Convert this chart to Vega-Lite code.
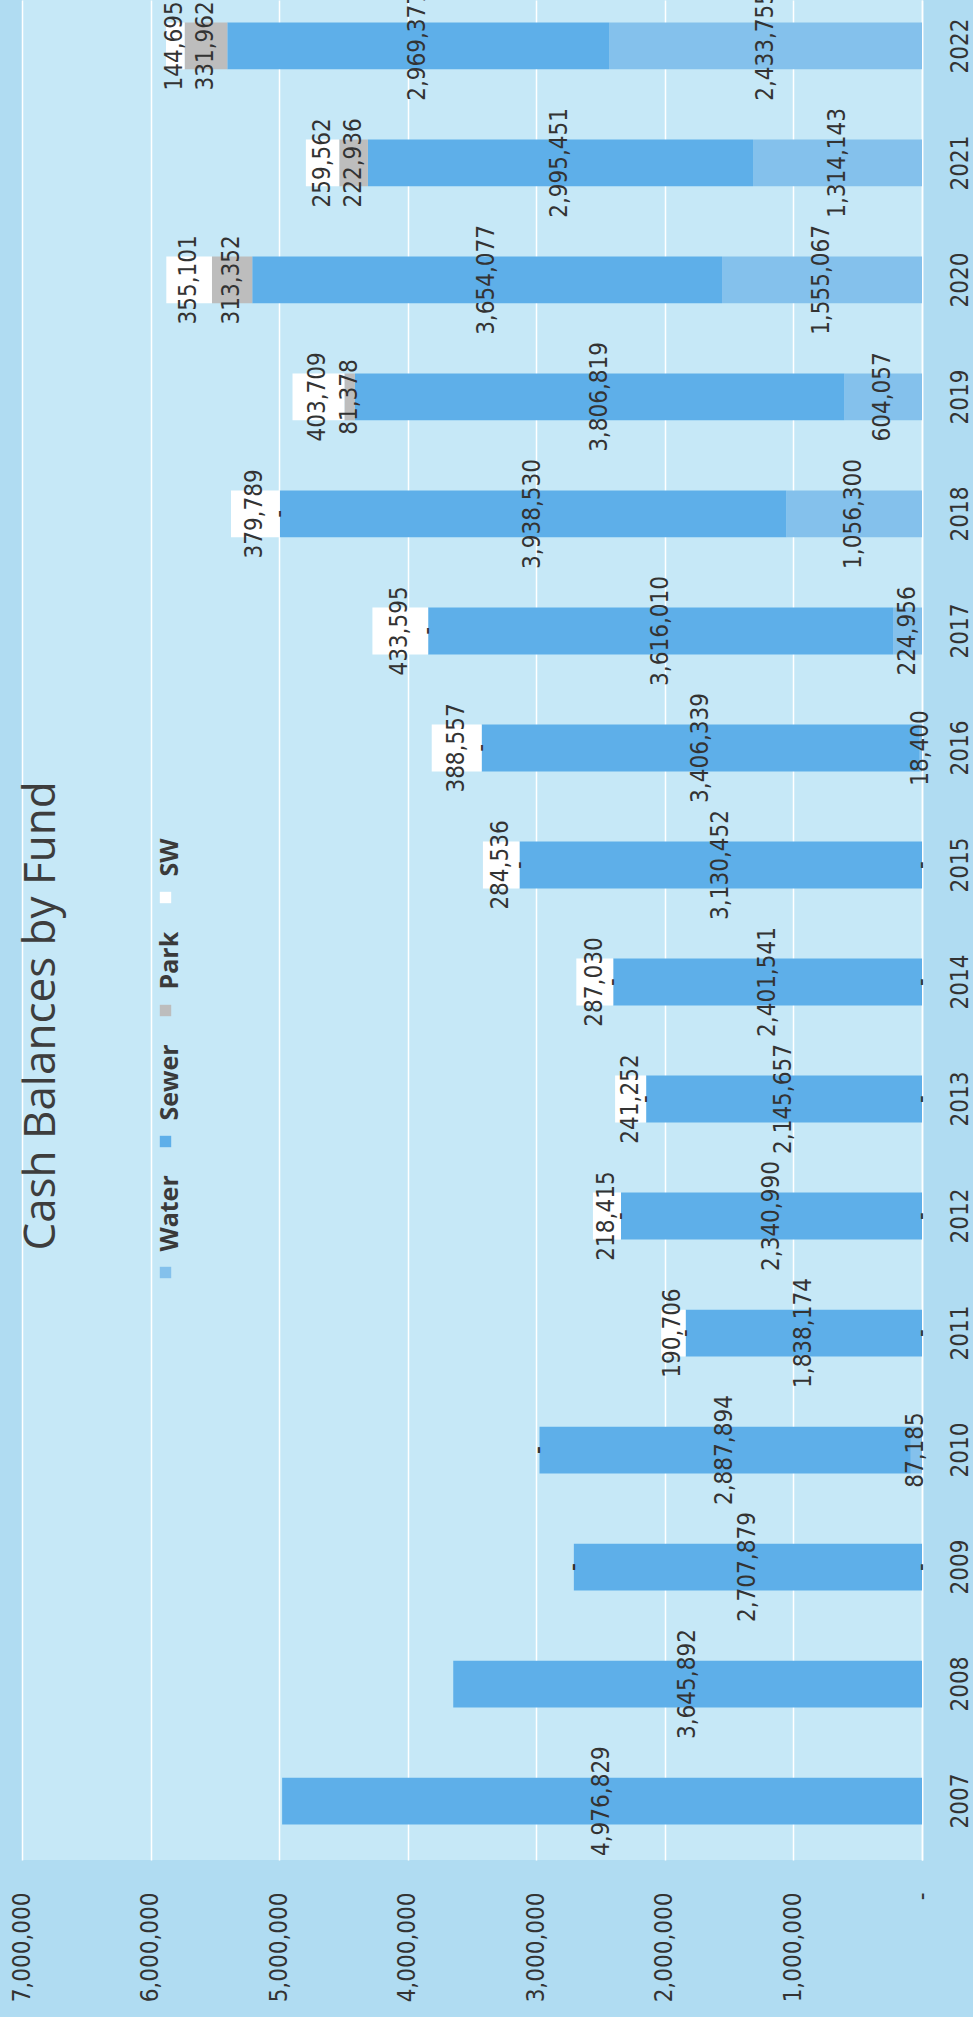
{
  "$schema": "https://vega.github.io/schema/vega-lite/v6.json",
  "autosize": {"type": "none"},
  "width": 900,
  "height": 1860,
  "padding": {"left": 22, "top": 0, "right": 51, "bottom": 157},
  "background": "#B0DCF2",
  "config": {
    "view": {"stroke": null, "fill": "#C6E8F7"}
  },
  "title": {
    "text": "Cash Balances by Fund",
    "orient": "left",
    "anchor": "middle",
    "font": "Open Sans",
    "fontSize": 44,
    "fontWeight": "normal",
    "color": "#3d3d3d",
    "offset": -54,
    "dx": -86
  },
  "data": {
    "values": [
      {"year": "2007", "fund": "Sewer", "value": 4976829, "ord": 2},
      {"year": "2008", "fund": "Sewer", "value": 3645892, "ord": 2},
      {"year": "2009", "fund": "Water", "value": 0, "ord": 1},
      {"year": "2009", "fund": "Sewer", "value": 2707879, "ord": 2},
      {"year": "2009", "fund": "Park", "value": 0, "ord": 3},
      {"year": "2009", "fund": "SW", "value": 0, "ord": 4},
      {"year": "2010", "fund": "Water", "value": 87185, "ord": 1},
      {"year": "2010", "fund": "Sewer", "value": 2887894, "ord": 2},
      {"year": "2010", "fund": "Park", "value": 0, "ord": 3},
      {"year": "2010", "fund": "SW", "value": 0, "ord": 4},
      {"year": "2011", "fund": "Water", "value": 0, "ord": 1},
      {"year": "2011", "fund": "Sewer", "value": 1838174, "ord": 2},
      {"year": "2011", "fund": "Park", "value": 0, "ord": 3},
      {"year": "2011", "fund": "SW", "value": 190706, "ord": 4},
      {"year": "2012", "fund": "Water", "value": 0, "ord": 1},
      {"year": "2012", "fund": "Sewer", "value": 2340990, "ord": 2},
      {"year": "2012", "fund": "Park", "value": 0, "ord": 3},
      {"year": "2012", "fund": "SW", "value": 218415, "ord": 4},
      {"year": "2013", "fund": "Water", "value": 0, "ord": 1},
      {"year": "2013", "fund": "Sewer", "value": 2145657, "ord": 2},
      {"year": "2013", "fund": "Park", "value": 0, "ord": 3},
      {"year": "2013", "fund": "SW", "value": 241252, "ord": 4},
      {"year": "2014", "fund": "Water", "value": 0, "ord": 1},
      {"year": "2014", "fund": "Sewer", "value": 2401541, "ord": 2},
      {"year": "2014", "fund": "Park", "value": 0, "ord": 3},
      {"year": "2014", "fund": "SW", "value": 287030, "ord": 4},
      {"year": "2015", "fund": "Water", "value": 0, "ord": 1},
      {"year": "2015", "fund": "Sewer", "value": 3130452, "ord": 2},
      {"year": "2015", "fund": "Park", "value": 0, "ord": 3},
      {"year": "2015", "fund": "SW", "value": 284536, "ord": 4},
      {"year": "2016", "fund": "Water", "value": 18400, "ord": 1},
      {"year": "2016", "fund": "Sewer", "value": 3406339, "ord": 2},
      {"year": "2016", "fund": "Park", "value": 0, "ord": 3},
      {"year": "2016", "fund": "SW", "value": 388557, "ord": 4},
      {"year": "2017", "fund": "Water", "value": 224956, "ord": 1},
      {"year": "2017", "fund": "Sewer", "value": 3616010, "ord": 2},
      {"year": "2017", "fund": "Park", "value": 0, "ord": 3},
      {"year": "2017", "fund": "SW", "value": 433595, "ord": 4},
      {"year": "2018", "fund": "Water", "value": 1056300, "ord": 1},
      {"year": "2018", "fund": "Sewer", "value": 3938530, "ord": 2},
      {"year": "2018", "fund": "Park", "value": 0, "ord": 3},
      {"year": "2018", "fund": "SW", "value": 379789, "ord": 4},
      {"year": "2019", "fund": "Water", "value": 604057, "ord": 1},
      {"year": "2019", "fund": "Sewer", "value": 3806819, "ord": 2},
      {"year": "2019", "fund": "Park", "value": 81378, "ord": 3},
      {"year": "2019", "fund": "SW", "value": 403709, "ord": 4},
      {"year": "2020", "fund": "Water", "value": 1555067, "ord": 1},
      {"year": "2020", "fund": "Sewer", "value": 3654077, "ord": 2},
      {"year": "2020", "fund": "Park", "value": 313352, "ord": 3},
      {"year": "2020", "fund": "SW", "value": 355101, "ord": 4},
      {"year": "2021", "fund": "Water", "value": 1314143, "ord": 1},
      {"year": "2021", "fund": "Sewer", "value": 2995451, "ord": 2},
      {"year": "2021", "fund": "Park", "value": 222936, "ord": 3},
      {"year": "2021", "fund": "SW", "value": 259562, "ord": 4},
      {"year": "2022", "fund": "Water", "value": 2433755, "ord": 1},
      {"year": "2022", "fund": "Sewer", "value": 2969377, "ord": 2},
      {"year": "2022", "fund": "Park", "value": 331962, "ord": 3},
      {"year": "2022", "fund": "SW", "value": 144695, "ord": 4}
    ]
  },
  "encoding": {
    "y": {
      "field": "year",
      "type": "ordinal",
      "sort": "descending",
      "scale": {"paddingInner": 0.6, "paddingOuter": 0.248, "align": 0.388},
      "axis": {
        "orient": "right",
        "title": null,
        "labelAngle": -90,
        "labelAlign": "center",
        "labelBaseline": "top",
        "labelPadding": 26,
        "labelFont": "DejaVu Sans Condensed, DejaVu Sans",
        "labelFontSize": 24,
        "labelColor": "#333333",
        "ticks": false,
        "domain": true,
        "domainColor": "#FFFFFF",
        "domainWidth": 1.5,
        "grid": false
      }
    }
  },
  "layer": [
    {
      "mark": {"type": "bar"},
      "encoding": {
        "x": {
          "field": "value",
          "type": "quantitative",
          "stack": "zero",
          "scale": {"domain": [0, 7000000], "reverse": true, "nice": false},
          "axis": {
            "orient": "bottom",
            "title": null,
            "values": [0, 1000000, 2000000, 3000000, 4000000, 5000000, 6000000, 7000000],
            "labelExpr": "datum.value === 0 ? '-\u00a0\u00a0\u00a0' : format(datum.value, ',')",
            "labelAngle": -90,
            "labelAlign": "right",
            "labelBaseline": "middle",
            "labelPadding": 32,
            "labelFont": "DejaVu Sans Condensed, DejaVu Sans",
            "labelFontSize": 24,
            "labelColor": "#333333",
            "ticks": false,
            "domain": false,
            "grid": true,
            "gridColor": "#FFFFFF",
            "gridWidth": 1.5,
            "gridOpacity": 1
          }
        },
        "color": {
          "field": "fund",
          "type": "nominal",
          "scale": {
            "domain": ["Water", "Sewer", "Park", "SW"],
            "range": ["#84C1EC", "#5EAFE9", "#BDBDBD", "#FFFFFF"]
          },
          "legend": {
            "orient": "none",
            "legendX": 131,
            "legendY": 885,
            "direction": "vertical",
            "title": null,
            "values": ["SW", "Park", "Sewer", "Water"],
            "symbolType": "square",
            "symbolSize": 130,
            "symbolStrokeWidth": 0,
            "symbolOpacity": 1,
            "labelFont": "Open Sans",
            "labelFontSize": 25,
            "labelFontWeight": "bold",
            "labelColor": "#3a3a3a",
            "labelOffset": -8,
            "rowPadding": 27,
            "padding": 0,
            "encode": {
              "labels": {"update": {"angle": {"value": -90}, "dx": {"value": 21}}}
            }
          }
        },
        "order": {"field": "ord", "type": "quantitative"}
      }
    },
    {
      "mark": {
        "type": "text",
        "angle": 270,
        "align": "center",
        "baseline": "middle",
        "font": "DejaVu Sans Condensed, DejaVu Sans",
        "fontSize": 24,
        "color": "#333333",
        "text": {"expr": "datum.value === 0 ? '-' : format(datum.value, ',')"}
      },
      "encoding": {
        "x": {
          "field": "value",
          "type": "quantitative",
          "stack": "zero",
          "bandPosition": 0.5
        },
        "order": {"field": "ord", "type": "quantitative"},
        "detail": {"field": "fund"}
      }
    }
  ]
}
